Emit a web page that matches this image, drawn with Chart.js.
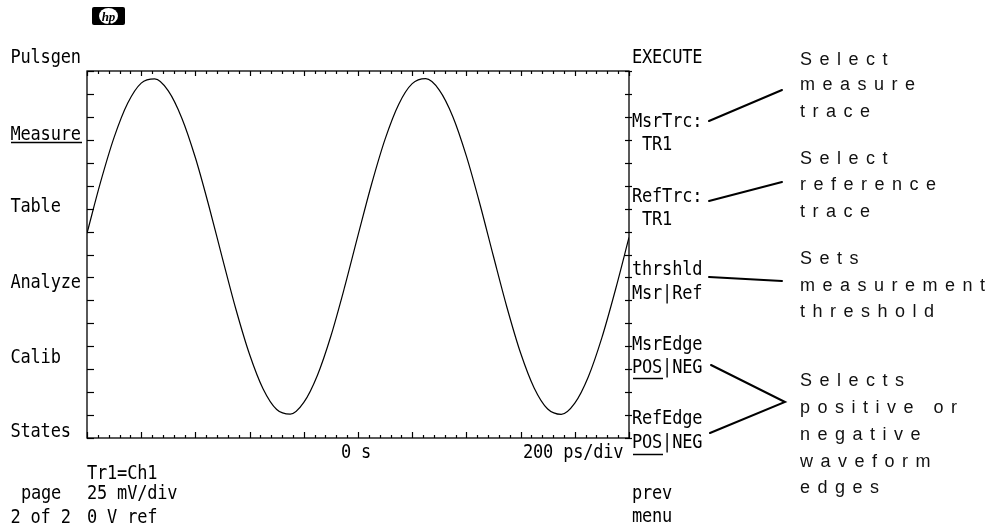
<!DOCTYPE html>
<html>
<head>
<meta charset="utf-8">
<title>Measure menu - page 2 of 2</title>
<script src="https://cdn.jsdelivr.net/npm/chart.js@4.4.1/dist/chart.umd.min.js"></script>
<style>
  html, body { margin: 0; padding: 0; background: #fff; }
  #wrap { position: relative; width: 994px; height: 532px; }
</style>
</head>
<body>
<div id="wrap"><canvas id="scope" width="994" height="532"></canvas></div>
<script>
// Trace Tr1: time in ps, level in mV
const timePs = [
  -1000, -950, -900, -850, -800, -750, -700, -650, -600, -550,
  -500, -450, -400, -350, -300, -250, -200, -150, -100, -50,
  0, 50, 100, 150, 200, 250, 300, 350, 400, 450,
  500, 550, 600, 650, 700, 750, 800, 850, 900, 950, 1000];
const traceMv = [
  11.6, 39.4, 63.8, 82.4, 93.4, 95.7, 89.2, 74.3, 52.7, 26.3,
  -2.2, -30.1, -54.5, -73.3, -84.5, -87.0, -80.6, -65.9, -44.4, -18.1,
  10.4, 38.3, 62.9, 81.8, 93.1, 95.8, 89.6, 75.1, 53.6, 27.4,
  -1.1, -29.0, -53.7, -72.7, -84.2, -87.1, -81.0, -66.6, -45.3, -19.2, 9.3];

// Screen: 10 div x 200 ps, 8 div x 25 mV
const xRange = [-1000, 1000];
const yRange = [-100, 100];
const xMajorStep = 200, xMinorStep = 40;
const yTickStep = 12.5;
const xLabels = ['0 s', '200 ps/div'];

// Softkey menus and status text
const leftMenu = ['Pulsgen', 'Measure', 'Table', 'Analyze', 'Calib', 'States'];
const rightMenu = ['EXECUTE', 'MsrTrc:', ' TR1', 'RefTrc:', ' TR1', 'thrshld', 'Msr|Ref',
  'MsrEdge', 'POS|NEG', 'RefEdge', 'POS|NEG', 'prev', 'menu'];
const statusText = ['Tr1=Ch1', 'page', '25 mV/div', '2 of 2', '0 V ref'];
const notes = [
  ['Select', 'measure', 'trace'],
  ['Select', 'reference', 'trace'],
  ['Sets', 'measurement', 'threshold'],
  ['Selects', 'positive or', 'negative', 'waveform', 'edges']];

const MONO = '17px "DejaVu Sans Mono", "Liberation Mono", monospace';
const SANS = '18px "Liberation Sans", Arial, sans-serif';

function monoText(ctx, s, x, base) {
  ctx.save();
  ctx.translate(x, base);
  ctx.scale(1, 1.1);
  ctx.font = MONO;
  ctx.letterSpacing = '-0.2px';
  ctx.fillText(s, 0, 0);
  ctx.restore();
}

function line(ctx, pts, w) {
  ctx.beginPath();
  ctx.lineWidth = w;
  ctx.moveTo(pts[0][0], pts[0][1]);
  for (let i = 1; i < pts.length; i++) ctx.lineTo(pts[i][0], pts[i][1]);
  ctx.stroke();
}

const screenDecor = {
  id: 'screenDecor',
  afterDraw(chart) {
    const { ctx, chartArea: a, scales: { x, y } } = chart;
    ctx.save();
    ctx.strokeStyle = '#000';
    ctx.fillStyle = '#000';
    ctx.textBaseline = 'alphabetic';

    // graticule frame
    ctx.lineWidth = 1.3;
    ctx.strokeRect(a.left, a.top, a.right - a.left, a.bottom - a.top);

    // time ticks, top and bottom edges
    for (let v = xRange[0]; v <= xRange[1]; v += xMinorStep) {
      const px = Math.round(x.getPixelForValue(v)) + 0.5;
      const major = v % xMajorStep === 0;
      line(ctx, [[px, a.top], [px, a.top + (major ? 5 : 3)]], 1.2);
      line(ctx, [[px, a.bottom], [px, a.bottom - (major ? 6 : 3)]], 1.2);
    }
    // voltage ticks, left and right edges
    for (let v = yRange[0]; v <= yRange[1]; v += yTickStep) {
      const py = Math.round(y.getPixelForValue(v)) + 0.5;
      line(ctx, [[a.left, py], [a.left + 7, py]], 1.2);
      line(ctx, [[a.right - 4, py], [a.right + 3, py]], 1.2);
    }

    // axis labels under the screen
    monoText(ctx, xLabels[0], 341, 458);
    monoText(ctx, xLabels[1], 523, 458);

    // left softkeys
    const leftBase = [63, 140, 212, 288, 363, 437];
    leftMenu.forEach((s, i) => monoText(ctx, s, 10.5, leftBase[i]));
    line(ctx, [[11, 142.5], [82, 142.5]], 1.5);

    // status lines
    monoText(ctx, statusText[0], 87, 479);
    monoText(ctx, statusText[1], 21, 499);
    monoText(ctx, statusText[2], 87, 499);
    monoText(ctx, statusText[3], 10.5, 523);
    monoText(ctx, statusText[4], 87, 523);

    // right softkeys
    const rightBase = [63, 127, 150, 202, 225, 275, 299, 350, 373, 424, 448, 499, 522];
    rightMenu.forEach((s, i) => monoText(ctx, s, 632, rightBase[i]));
    line(ctx, [[633, 378.5], [663, 378.5]], 1.5);
    line(ctx, [[633, 454.5], [663, 454.5]], 1.5);

    // hp badge
    ctx.beginPath();
    ctx.roundRect(92, 7, 33, 18, 2);
    ctx.fill();
    ctx.fillStyle = '#fff';
    ctx.beginPath();
    ctx.ellipse(108.5, 16, 9.5, 8, 0, 0, Math.PI * 2);
    ctx.fill();
    ctx.fillStyle = '#000';
    ctx.font = 'italic bold 13px "Liberation Serif", serif';
    ctx.textAlign = 'center';
    ctx.fillText('hp', 108.5, 20.5);
    ctx.textAlign = 'left';

    // callout leaders
    ctx.lineCap = 'round';
    line(ctx, [[709, 121], [782, 90]], 2);
    line(ctx, [[709, 201], [782, 182]], 2);
    line(ctx, [[709, 277], [782, 281]], 2);
    line(ctx, [[711, 365], [785, 402], [710, 433]], 2);

    // callout text
    ctx.font = SANS;
    ctx.letterSpacing = '7.5px';
    ctx.fillStyle = '#111';
    const noteBase = [[65, 90, 117], [164, 190, 217], [264, 291, 317], [386, 413, 440, 467, 493]];
    notes.forEach((grp, g) => grp.forEach((s, i) => ctx.fillText(s, 800, noteBase[g][i])));
    ctx.restore();
  }
};

new Chart(document.getElementById('scope'), {
  type: 'line',
  data: {
    datasets: [{
      label: 'Tr1',
      data: timePs.map((t, i) => ({ x: t, y: traceMv[i] })),
      borderColor: '#000',
      borderWidth: 1.2,
      pointRadius: 0,
      cubicInterpolationMode: 'monotone',
      fill: false
    }]
  },
  options: {
    responsive: false,
    animation: false,
    layout: { padding: { left: 87, top: 71, right: 365, bottom: 94 } },
    scales: {
      x: { type: 'linear', min: xRange[0], max: xRange[1], display: false },
      y: { min: yRange[0], max: yRange[1], display: false }
    },
    plugins: { legend: { display: false }, tooltip: { enabled: false } }
  },
  plugins: [screenDecor]
});
</script>
</body>
</html>
